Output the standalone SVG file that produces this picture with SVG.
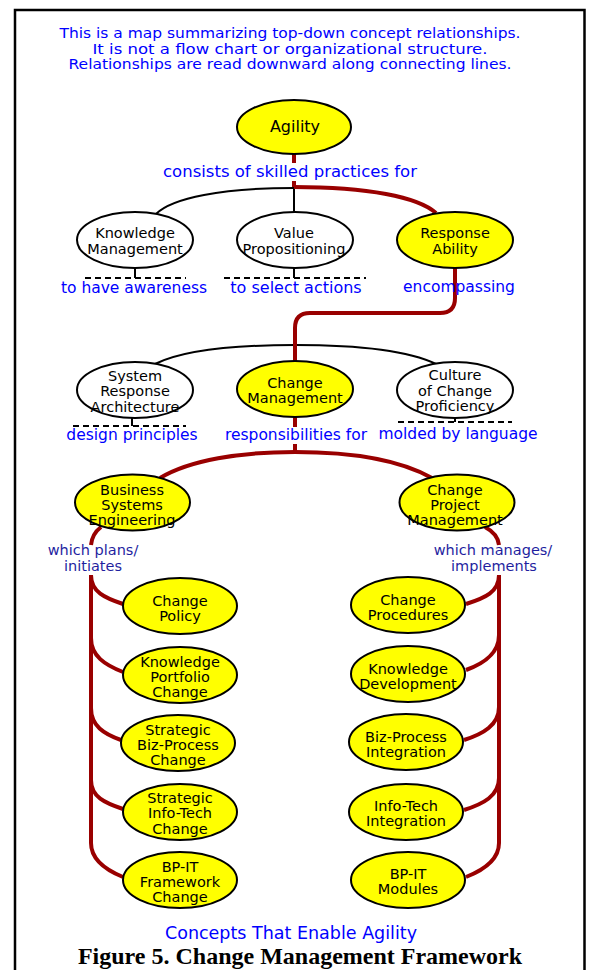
<svg xmlns="http://www.w3.org/2000/svg" width="589" height="970" viewBox="0 0 589 970">
<style>
.frame{fill:none;stroke:#000;stroke-width:2.5}
.red{fill:none;stroke:#990000;stroke-width:4;stroke-linecap:butt}
.blk{fill:none;stroke:#000;stroke-width:2}
.dash{fill:none;stroke:#000;stroke-width:2;stroke-dasharray:6 4}
.n ellipse{stroke:#000;stroke-width:2;fill:#fff}
.n.y ellipse{fill:#ffff00}
.n text{font-family:"DejaVu Sans",sans-serif;font-size:14.5px;text-anchor:middle;fill:#000}
.lbl{font-family:"DejaVu Sans",sans-serif;font-size:15.5px;text-anchor:middle;fill:#0000ff}
.lbl2{font-family:"DejaVu Sans",sans-serif;font-size:14.5px;text-anchor:middle;fill:#1f1f9f}
.intro{font-family:"DejaVu Sans",sans-serif;font-size:14.5px;text-anchor:middle;fill:#0000ff}
.cap{font-family:"Liberation Serif",serif;font-size:24px;font-weight:bold;text-anchor:middle;fill:#000}
</style>
<rect width="589" height="970" fill="#fff"/>
<path class="frame" d="M15,975 V10 H584.5 V975"/>

<g id="intro">
<text class="intro" x="290" y="38" textLength="461" lengthAdjust="spacingAndGlyphs">This is a map summarizing top-down concept relationships.</text>
<text class="intro" x="290" y="53.5" textLength="395" lengthAdjust="spacingAndGlyphs">It is not a flow chart or organizational structure.</text>
<text class="intro" x="290" y="69" textLength="443" lengthAdjust="spacingAndGlyphs">Relationships are read downward along connecting lines.</text>
</g>

<g id="connectors">
<!-- level 1 -->
<path class="red" d="M294,154 V163"/>
<path class="red" d="M294,181 V188"/>
<path class="blk" d="M294,188 C222,188 172,198 156,214"/>
<path class="blk" d="M294,188 V212"/>
<path class="red" d="M294,187 C368,187 418,197 436,213"/>
<path class="blk" d="M135,268 V278"/>
<path class="dash" d="M85,278 H186"/>
<path class="blk" d="M294,268 V278"/>
<path class="dash" d="M224,278 H366"/>
<!-- level 2 -->
<path class="blk" d="M155,364 C185,349 240,345 295,345 C350,345 405,349 436,364"/>
<path class="red" d="M455,268 V298 Q455,313 440,313 H310 Q295,313 295,328 V362"/>
<path class="blk" d="M132,418 V426"/>
<path class="dash" d="M73,426 H186"/>
<path class="blk" d="M455,418 V422"/>
<path class="dash" d="M398,422 H512"/>
<path class="red" d="M295,417 V427"/>
<path class="red" d="M295,444 V452"/>
<!-- level 3 -->
<path class="red" d="M160,478 C190,460 240,452 295,452 C350,452 400,460 432,478"/>
<path class="red" d="M101,527 Q92,534 91,545"/>
<path class="red" d="M485,527 Q498,534 499,545"/>
<!-- left trunk -->
<path class="red" d="M91,575 V843 Q91,864 123,877"/>
<path class="red" d="M91,575 C91,592 105,598 123,604"/>
<path class="red" d="M91,638 C91,656 105,665 123,672"/>
<path class="red" d="M91,708 C91,726 104,734 121,740"/>
<path class="red" d="M91,780 C91,797 105,803 123,809"/>
<!-- right trunk -->
<path class="red" d="M499,575 V843 Q499,864 466,877"/>
<path class="red" d="M499,575 C499,592 485,598 466,604"/>
<path class="red" d="M499,635 C499,653 485,663 466,670"/>
<path class="red" d="M499,707 C499,725 483,734 464,740"/>
<path class="red" d="M499,778 C499,796 483,804 464,810"/>
</g>

<g id="agility" class="n y"><ellipse cx="294" cy="127" rx="57" ry="27"/><text x="295" y="132" style="font-size:16px">Agility</text></g>

<g id="knowledge-management" class="n"><ellipse cx="135" cy="240" rx="58" ry="28"/><text x="135" y="238">Knowledge</text><text x="135" y="254">Management</text></g>
<g id="value-propositioning" class="n"><ellipse cx="295" cy="240" rx="58" ry="28"/><text x="294" y="238">Value</text><text x="294" y="254">Propositioning</text></g>
<g id="response-ability" class="n y"><ellipse cx="455" cy="240" rx="58" ry="28"/><text x="455" y="238">Response</text><text x="455" y="254">Ability</text></g>

<g id="system-response-architecture" class="n"><ellipse cx="135" cy="390" rx="58" ry="28"/><text x="135" y="381">System</text><text x="135" y="396">Response</text><text x="135" y="412">Architecture</text></g>
<g id="change-management" class="n y"><ellipse cx="295" cy="389" rx="58" ry="28"/><text x="295" y="388">Change</text><text x="295" y="403">Management</text></g>
<g id="culture-of-change-proficiency" class="n"><ellipse cx="455" cy="390" rx="58" ry="28"/><text x="455" y="380">Culture</text><text x="455" y="396">of Change</text><text x="455" y="411">Proficiency</text></g>

<g id="business-systems-engineering" class="n y"><ellipse cx="132.5" cy="502.5" rx="57.5" ry="28"/><text x="132" y="495">Business</text><text x="132" y="510">Systems</text><text x="132" y="525">Engineering</text></g>
<g id="change-project-management" class="n y"><ellipse cx="457" cy="502.5" rx="57.5" ry="28"/><text x="455" y="495">Change</text><text x="455" y="510">Project</text><text x="455" y="525">Management</text></g>

<g id="change-policy" class="n y"><ellipse cx="180" cy="606" rx="57" ry="28"/><text x="180" y="606">Change</text><text x="180" y="621">Policy</text></g>
<g id="knowledge-portfolio-change" class="n y"><ellipse cx="180" cy="675" rx="57" ry="28"/><text x="180" y="667">Knowledge</text><text x="180" y="682">Portfolio</text><text x="180" y="697">Change</text></g>
<g id="strategic-biz-process-change" class="n y"><ellipse cx="178" cy="743" rx="57" ry="28"/><text x="178" y="735">Strategic</text><text x="178" y="750">Biz-Process</text><text x="178" y="765">Change</text></g>
<g id="strategic-info-tech-change" class="n y"><ellipse cx="180" cy="812" rx="57" ry="28"/><text x="180" y="803">Strategic</text><text x="180" y="818">Info-Tech</text><text x="180" y="834">Change</text></g>
<g id="bp-it-framework-change" class="n y"><ellipse cx="180" cy="880" rx="57" ry="28"/><text x="180" y="872">BP-IT</text><text x="180" y="887">Framework</text><text x="180" y="902">Change</text></g>

<g id="change-procedures" class="n y"><ellipse cx="408" cy="605" rx="57" ry="28"/><text x="408" y="605">Change</text><text x="408" y="620">Procedures</text></g>
<g id="knowledge-development" class="n y"><ellipse cx="408" cy="674" rx="57" ry="28"/><text x="408" y="674">Knowledge</text><text x="408" y="689">Development</text></g>
<g id="biz-process-integration" class="n y"><ellipse cx="406" cy="742" rx="57" ry="28"/><text x="406" y="742">Biz-Process</text><text x="406" y="757">Integration</text></g>
<g id="info-tech-integration" class="n y"><ellipse cx="406" cy="812" rx="57" ry="28"/><text x="406" y="811">Info-Tech</text><text x="406" y="826">Integration</text></g>
<g id="bp-it-modules" class="n y"><ellipse cx="408" cy="880" rx="57" ry="28"/><text x="408" y="879">BP-IT</text><text x="408" y="894">Modules</text></g>

<g id="labels">
<text class="lbl" x="290" y="177" style="font-size:16.5px">consists of skilled practices for</text>
<text class="lbl" x="134" y="293">to have awareness</text>
<text class="lbl" x="296" y="293" style="font-size:16px">to select actions</text>
<text class="lbl" x="459" y="292">encompassing</text>
<text class="lbl" x="132" y="440">design principles</text>
<text class="lbl" x="296" y="440">responsibilities for</text>
<text class="lbl" x="458" y="439">molded by language</text>
<text class="lbl2" x="93" y="554.5">which plans/</text>
<text class="lbl2" x="93" y="571">initiates</text>
<text class="lbl2" x="493" y="554.5">which manages/</text>
<text class="lbl2" x="494" y="571">implements</text>
<text class="lbl" x="291" y="939" style="font-size:17.5px">Concepts That Enable Agility</text>
</g>
<text class="cap" x="300" y="964">Figure 5. Change Management Framework</text>
</svg>
